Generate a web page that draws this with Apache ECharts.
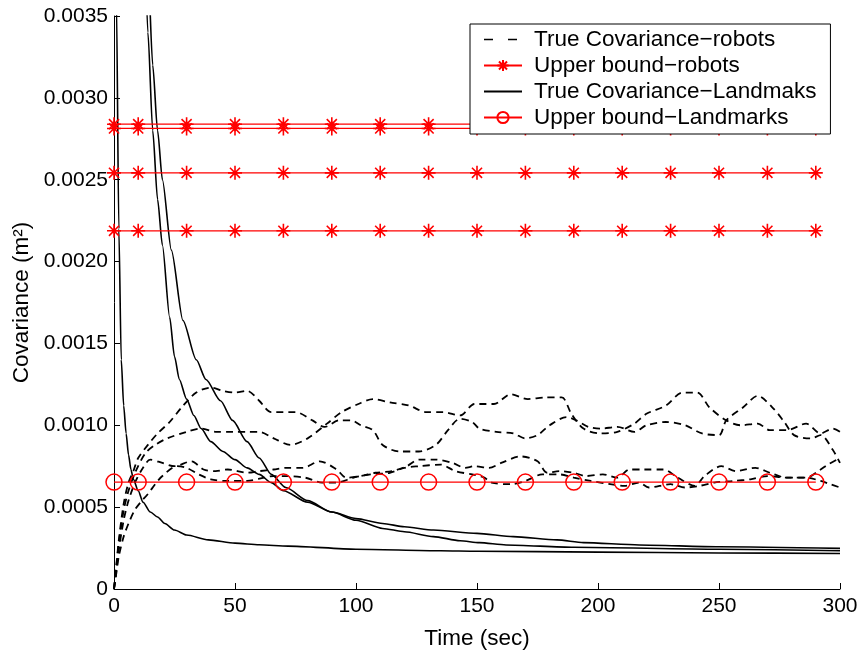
<!DOCTYPE html>
<html>
<head>
<meta charset="utf-8">
<script src="https://cdn.jsdelivr.net/npm/echarts@6/dist/echarts.min.js"></script>
<style>html,body{margin:0;padding:0;background:#fff}#c{width:863px;height:663px}</style>
</head>
<body>
<div id="c"></div>
<script>
// ---- data ----
var xTicks = [0, 50, 100, 150, 200, 250, 300];
var yTicks = [0, 0.0005, 0.0010, 0.0015, 0.0020, 0.0025, 0.0030, 0.0035];
var legendNames = ['True Covariance−robots', 'Upper bound−robots', 'True Covariance−Landmaks', 'Upper bound−Landmarks'];

// true covariance of robots (dashed)
var robot1 = [[0,0],[1,0.00015],[2,0.0003],[4,0.00052],[6,0.00065],[8,0.00072],[10,0.0008],[14,0.00088],[18,0.00095],[23,0.00102],[28,0.00111],[34,0.0012],[40,0.00123],[45,0.00121],[50,0.0012],[55,0.00121],[60,0.00115],[65,0.00108],[75,0.00108],[82,0.00103],[87,0.00099],[93,0.00103],[98,0.00103],[102,0.001],[107,0.00097],[111,0.00088],[118,0.00084],[126,0.00084],[133,0.00088],[138,0.00097],[143,0.00104],[148,0.00102],[151,0.00098],[158,0.00096],[165,0.00095],[170,0.00092],[175,0.00094],[180,0.001],[187,0.00105],[191,0.00103],[196,0.00099],[201,0.00098],[208,0.00099],[215,0.00096],[220,0.001],[228,0.00102],[236,0.001],[243,0.00095],[250,0.00094],[253,0.00103],[260,0.00111],[266,0.00118],[272,0.00111],[277,0.00102],[281,0.00094],[288,0.00092],[292,0.00094],[297,0.00085],[300,0.00077]];
var robot2 = [[0,0],[1,0.00014],[2,0.00028],[4,0.00048],[6,0.0006],[9,0.00072],[13,0.00083],[17,0.00088],[22,0.00092],[30,0.00096],[36,0.00098],[42,0.00096],[49,0.00096],[55,0.00096],[60,0.00096],[66,0.00092],[73,0.00088],[80,0.00092],[88,0.00101],[94,0.00108],[101,0.00113],[107,0.00116],[114,0.00114],[122,0.00112],[129,0.00108],[136,0.00108],[143,0.00106],[149,0.00113],[157,0.00113],[164,0.00119],[171,0.00116],[178,0.00117],[185,0.00117],[189,0.00107],[194,0.00098],[201,0.00095],[208,0.00096],[215,0.00101],[220,0.00107],[228,0.00112],[235,0.0012],[241,0.0012],[246,0.00111],[253,0.00103],[259,0.001],[266,0.00101],[271,0.00097],[278,0.00097],[286,0.00101],[292,0.00095],[297,0.00098],[300,0.00096]];
var robot3 = [[0,0],[1,0.00012],[2,0.00024],[4,0.00042],[6,0.00054],[9,0.00066],[12,0.00074],[15,0.00079],[20,0.00077],[25,0.00075],[32,0.00078],[37,0.00073],[42,0.00072],[47,0.00073],[55,0.00071],[60,0.00072],[66,0.00073],[71,0.00074],[78,0.00074],[85,0.00078],[92,0.00073],[96,0.00068],[102,0.00069],[108,0.00071],[115,0.00072],[121,0.00075],[126,0.00079],[133,0.00079],[140,0.00077],[145,0.00074],[149,0.00075],[155,0.00074],[160,0.00077],[168,0.00081],[175,0.00078],[179,0.00071],[184,0.00072],[190,0.00071],[195,0.00069],[202,0.0007],[208,0.00068],[213,0.00073],[219,0.00073],[227,0.00073],[233,0.00068],[240,0.00063],[244,0.00069],[251,0.00075],[257,0.00072],[265,0.00074],[271,0.00071],[278,0.00068],[286,0.00068],[292,0.00073],[295,0.00076],[300,0.0008]];
var robot4 = [[0,0],[1,0.0001],[2,0.0002],[4,0.00032],[6,0.0004],[8.5,0.00048],[11,0.00053],[14,0.00058],[17,0.00064],[20,0.00069],[26,0.00075],[30,0.00074],[35,0.0007],[40,0.00067],[47,0.00066],[55,0.00066],[62,0.00068],[66,0.00069],[71,0.00069],[79,0.00068],[86,0.00065],[92,0.00065],[99,0.00068],[106,0.0007],[114,0.00071],[120,0.00074],[126,0.00075],[135,0.00076],[141,0.00072],[148,0.0007],[153,0.00068],[156,0.00065],[164,0.00064],[170,0.00066],[177,0.0007],[184,0.0007],[190,0.00068],[197,0.00066],[205,0.00064],[211,0.00063],[217,0.00065],[221,0.00062],[230,0.00064],[236,0.00062],[242,0.00063],[248,0.00065],[256,0.00066],[263,0.00067],[270,0.00069],[278,0.00068],[286,0.00068],[292,0.00066],[296,0.00064],[300,0.00062]];

// upper bounds (constant lines with markers)
var boundX = [0, 10, 30, 50, 70, 90, 110, 130, 150, 170, 190, 210, 230, 250, 270, 290];
var robotBounds = [0.002839, 0.002813, 0.002542, 0.002188];
var landmarkBound = 0.000653;

// true covariance of landmarks (solid)
var land1 = [[0,0.009],[1,0.0036],[2,0.0022],[3,0.0014],[4,0.00112],[5,0.00095],[6,0.00082],[7,0.00073],[8,0.00067],[10,0.0006],[12,0.00053],[15,0.00047],[18,0.00044],[21,0.0004],[25,0.00036],[30,0.00033],[39,0.0003],[50,0.00028],[60,0.00027],[72,0.000262],[100,0.000243],[135,0.000234],[150,0.000231],[200,0.000225],[250,0.00022],[300,0.000217]];
var land2 = [[10,0.0058],[12,0.0043],[14,0.0034],[16,0.0028],[18,0.00238],[20,0.0021],[23,0.00166],[25,0.00142],[27,0.00128],[30,0.00116],[33,0.00106],[36,0.00098],[40,0.0009],[45,0.00084],[50,0.00079],[55,0.00074],[60,0.0007],[65,0.00065],[70,0.0006],[80,0.00053],[90,0.00047],[100,0.00043],[111,0.0004],[120,0.00038],[132,0.00036],[150,0.00034],[165,0.00032],[183,0.0003],[194,0.000283],[217,0.000269],[250,0.000258],[300,0.000248]];
var land3 = [[10,0.0075],[12,0.0052],[14,0.0038],[16,0.0032],[18,0.0028],[20,0.0025],[23.7,0.00207],[28.5,0.00164],[34,0.0014],[38,0.00128],[44,0.00115],[49,0.00103],[55,0.0009],[60,0.0008],[65,0.0007],[71,0.00062],[80,0.00054],[90,0.00047],[100,0.00042],[111,0.00037],[120,0.00035],[132,0.00032],[143,0.000295],[151,0.000283],[162,0.000269],[190,0.000255],[250,0.000243],[300,0.000234]];

// ---- chart ----
var FONT = '"Liberation Sans", Arial, Helvetica, sans-serif';
var STAR = 'path://M0,-1L0,1M-1,0L1,0M-0.72,-0.72L0.72,0.72M-0.72,0.72L0.72,-0.72';
var chart = echarts.init(document.getElementById('c'), null, {renderer: 'canvas'});
var series = [];
[robot1, robot2, robot3, robot4].forEach(function (d) {
  series.push({
    name: legendNames[0], type: 'line', data: d, symbol: 'none', smooth: 0.3,
    lineStyle: {color: '#000', width: 1.8, type: [7, 5]}, itemStyle: {color: '#000'}, z: 2
  });
});
robotBounds.forEach(function (v) {
  series.push({
    name: legendNames[1], type: 'line', data: boundX.map(function (x) { return [x, v]; }),
    symbol: STAR, symbolSize: 14, showSymbol: true,
    lineStyle: {color: '#ff0000', width: 1.3},
    itemStyle: {color: '#ff0000', borderColor: '#ff0000', borderWidth: 1.6}, z: 3
  });
});
[land1, land2, land3].forEach(function (d) {
  series.push({
    name: legendNames[2], type: 'line', data: d, symbol: 'none', smooth: 0.25, smoothMonotone: 'x',
    lineStyle: {color: '#000', width: 1.6}, itemStyle: {color: '#000'}, z: 2
  });
});
series.push({
  name: legendNames[3], type: 'line', data: boundX.map(function (x) { return [x, landmarkBound]; }),
  symbol: 'circle', symbolSize: 16, showSymbol: true,
  lineStyle: {color: '#ff0000', width: 1.3},
  itemStyle: {color: 'transparent', borderColor: '#ff0000', borderWidth: 1.5}, z: 3
});

var hiddenSym = {color: 'transparent', borderColor: 'transparent', borderWidth: 0};
chart.setOption({
  animation: false,
  backgroundColor: '#fff',
  textStyle: {fontFamily: FONT},
  grid: {left: 114, right: 23, top: 16, bottom: 74, containLabel: false},
  legend: {
    data: [
      {name: legendNames[0], itemStyle: hiddenSym, lineStyle: {type: [9, 15], width: 1.6}},
      {name: legendNames[1]},
      {name: legendNames[2], itemStyle: hiddenSym},
      {name: legendNames[3]}
    ],
    orient: 'vertical', left: 470, top: 24,
    backgroundColor: '#fff', borderColor: '#000', borderWidth: 1,
    padding: [4, 14, 5, 13], itemGap: 3, itemWidth: 38, itemHeight: 14,
    textStyle: {fontFamily: FONT, fontSize: 22.5, color: '#000', padding: [0, 0, 0, 7], lineHeight: 23},
    z: 10
  },
  xAxis: {
    type: 'value', min: xTicks[0], max: xTicks[xTicks.length - 1], interval: 50,
    name: 'Time (sec)', nameLocation: 'middle', nameGap: 38,
    nameTextStyle: {fontFamily: FONT, fontSize: 22.5, color: '#000'},
    axisLine: {lineStyle: {color: '#000', width: 1}},
    axisTick: {inside: true, length: 6, lineStyle: {color: '#000'}},
    axisLabel: {fontFamily: FONT, fontSize: 21, color: '#000', margin: 7},
    splitLine: {show: false}
  },
  yAxis: {
    type: 'value', min: yTicks[0], max: yTicks[yTicks.length - 1], interval: 0.0005,
    name: 'Covariance (m²)', nameLocation: 'middle', nameGap: 70, nameRotate: 90,
    nameTextStyle: {fontFamily: FONT, fontSize: 22.5, color: '#000'},
    axisLine: {show: true, lineStyle: {color: '#000', width: 1}},
    axisTick: {show: true, inside: true, length: 6, lineStyle: {color: '#000'}},
    axisLabel: {fontFamily: FONT, fontSize: 21, color: '#000', margin: 6,
      formatter: function (v) { return Math.abs(v) < 1e-12 ? '0' : v.toFixed(4); }},
    splitLine: {show: false}
  },
  series: series
});
</script>
</body>
</html>
